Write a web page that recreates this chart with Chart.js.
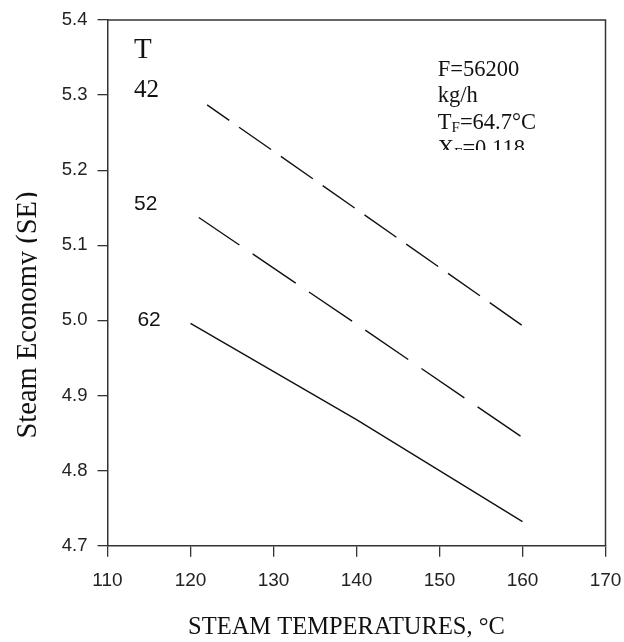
<!DOCTYPE html>
<html>
<head>
<meta charset="utf-8">
<script src="https://cdn.jsdelivr.net/npm/chart.js@4.4.0/dist/chart.umd.min.js"></script>
<style>
  html, body { margin: 0; padding: 0; background: #fff; }
  canvas { display: block; }
</style>
</head>
<body>
<canvas id="chart" width="624" height="642"></canvas>
<script>
// valeurs
const temps42 = [122, 140, 160];
const economy42 = [5.287, 5.148, 4.993];
const temps52 = [121, 140, 160];
const economy52 = [5.137, 4.995, 4.844];
const temps62 = [120, 140, 160];
const economy62 = [4.996, 4.868, 4.732];

const xTicks = [110, 120, 130, 140, 150, 160, 170];
const yTicks = [4.7, 4.8, 4.9, 5.0, 5.1, 5.2, 5.3, 5.4];

const xTitle = "STEAM TEMPERATURES, °C";
const yTitle = "Steam Economy (SE)";

// étiquettes des courbes : [texte, x, y, police]
const curveLabels = [
  ["T", 113.2, 5.349, "29px 'Liberation Serif', 'Times New Roman', serif"],
  ["42", 113.2, 5.297, "25px 'Liberation Serif', 'Times New Roman', serif"],
  ["52", 113.2, 5.147, "21px 'Liberation Sans', Arial, sans-serif"],
  ["62", 113.6, 4.992, "21px 'Liberation Sans', Arial, sans-serif"]
];

// encadré des conditions : [texte principal, indice, reste]
const noteLines = [
  ["F=56200", "", ""],
  ["kg/h", "", ""],
  ["T", "F", "=64.7°C"],
  ["X", "F", "=0.118"]
];
const noteX = 149.8;
const noteY = [5.3258, 5.2908, 5.2555, 5.2202];
const noteClipY = 5.227;

const toPoints = (xs, ys) => xs.map((x, i) => ({ x: x, y: ys[i] }));

const serif = "'Liberation Serif', 'Times New Roman', serif";
const sans = "'Liberation Sans', Arial, sans-serif";

const textPlugin = {
  id: 'texts',
  afterDraw(chart) {
    const ctx = chart.ctx;
    const xs = chart.scales.x;
    const ys = chart.scales.y;
    const area = chart.chartArea;

    // cadre haut et droite
    ctx.save();
    ctx.strokeStyle = '#333';
    ctx.lineWidth = 1.5;
    ctx.beginPath();
    ctx.moveTo(area.left, area.top);
    ctx.lineTo(area.right, area.top);
    ctx.lineTo(area.right, area.bottom);
    ctx.stroke();
    ctx.restore();

    ctx.save();
    ctx.fillStyle = '#111';
    ctx.textAlign = 'left';
    ctx.textBaseline = 'alphabetic';
    curveLabels.forEach(([txt, x, y, font]) => {
      ctx.font = font;
      ctx.fillText(txt, xs.getPixelForValue(x), ys.getPixelForValue(y));
    });

    // texte des conditions, coupé en bas
    ctx.save();
    ctx.beginPath();
    ctx.rect(xs.getPixelForValue(noteX) - 10, area.top + 5, 140, ys.getPixelForValue(noteClipY) - area.top - 5);
    ctx.clip();
    noteLines.forEach(([main, sub, rest], i) => {
      let px = xs.getPixelForValue(noteX);
      const py = ys.getPixelForValue(noteY[i]);
      ctx.font = `22.5px ${serif}`;
      ctx.fillText(main, px, py);
      px += ctx.measureText(main).width;
      if (sub) {
        ctx.font = `15px ${serif}`;
        ctx.fillText(sub, px, py + 3);
        px += ctx.measureText(sub).width;
        ctx.font = `22.5px ${serif}`;
        ctx.fillText(rest, px, py);
      }
    });
    ctx.restore();

    // titres des axes
    ctx.font = `24.5px ${serif}`;
    ctx.textAlign = 'center';
    ctx.fillText(xTitle, 346.5, 634);

    ctx.save();
    ctx.beginPath();
    ctx.rect(0, 0, 37, chart.height);
    ctx.clip();
    ctx.translate(36, 315);
    ctx.rotate(-Math.PI / 2);
    ctx.font = `28.5px ${serif}`;
    ctx.fillText(yTitle, 0, 0);
    ctx.restore();
    ctx.restore();
  }
};

new Chart(document.getElementById('chart'), {
  type: 'line',
  data: {
    datasets: [
      {
        label: '42',
        data: toPoints(temps42, economy42),
        borderColor: '#111',
        borderWidth: 1.4,
        borderDash: [39, 12],
        borderDashOffset: 12,
        pointRadius: 0,
        tension: 0
      },
      {
        label: '52',
        data: toPoints(temps52, economy52),
        borderColor: '#111',
        borderWidth: 1.4,
        borderDash: [52, 16],
        borderDashOffset: 3,
        pointRadius: 0,
        tension: 0
      },
      {
        label: '62',
        data: toPoints(temps62, economy62),
        borderColor: '#111',
        borderWidth: 1.4,
        pointRadius: 0,
        tension: 0
      }
    ]
  },
  options: {
    responsive: false,
    animation: false,
    layout: { padding: { top: 20, right: 18.5, left: 0, bottom: 0 } },
    plugins: {
      legend: { display: false },
      tooltip: { enabled: false }
    },
    scales: {
      x: {
        type: 'linear',
        min: 110,
        max: 170,
        afterBuildTicks: s => { s.ticks = xTicks.map(v => ({ value: v })); },
        afterFit: s => { s.height = 96.3; s.paddingLeft = 0; s.paddingRight = 0; },
        ticks: {
          color: '#222',
          padding: 13,
          font: { family: sans, size: 19 },
          callback: v => String(v)
        },
        grid: { drawOnChartArea: false, tickLength: 11, color: '#333', lineWidth: 1.3 },
        border: { color: '#333', width: 1.5 }
      },
      y: {
        min: 4.7,
        max: 5.4,
        afterBuildTicks: s => { s.ticks = yTicks.map(v => ({ value: v })); },
        afterFit: s => { s.width = 107.5; s.paddingTop = 0; s.paddingBottom = 0; },
        ticks: {
          color: '#222',
          padding: 10,
          font: { family: sans, size: 18.5 },
          callback: v => Number(v).toFixed(1)
        },
        grid: { drawOnChartArea: false, tickLength: 10, color: '#333', lineWidth: 1.3 },
        border: { color: '#333', width: 1.5 }
      }
    }
  },
  plugins: [textPlugin]
});
</script>
</body>
</html>
